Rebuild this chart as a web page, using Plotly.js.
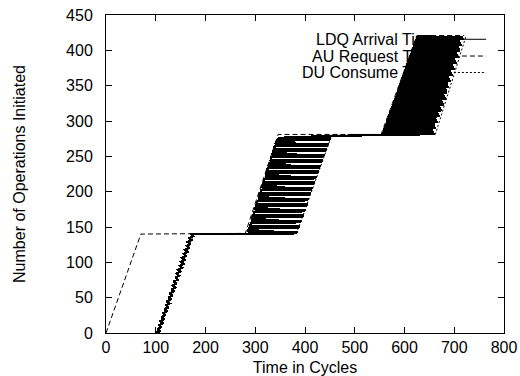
<!DOCTYPE html>
<html><head><meta charset="utf-8">
<script src="https://cdn.plot.ly/plotly-3.0.1.min.js"></script>
<style>
html,body{margin:0;padding:0;background:#fff}
#chart{width:520px;height:376px}
#chart .scatterlayer .trace:nth-child(1) path.js-line{shape-rendering:crispEdges}
</style>
</head><body><div id="chart"></div>
<script>
// Series names
const seriesNames = ["LDQ Arrival Time", "AU Request Time", "DU Consume Time"];

// LDQ Arrival Time (time in cycles, operation number)
const ldqX = [
  100,109,103,112,106,115,108,118,111,120,114,123,117,126,120,128,122,131,125,134,
  128,137,131,139,134,142,136,145,139,147,142,150,145,153,148,156,150,158,153,161,
  156,164,159,167,162,169,164,172,167,175,170,
  284,384,285,385,286, 287,388,288,389,290, 291,391,292,393,293, 294,395,295,397,296,
  298,399,299,401,300, 301,403,302,405,303, 305,407,306,409,307, 308,411,309,412,310,
  312,415,313,416,314, 315,419,316,420,317, 318,423,320,424,321, 322,427,323,428,324,
  325,431,326,432,327, 329,435,330,436,331, 332,439,333,440,334, 336,443,337,444,338,
  339,447,340,448,341, 343,451,344,452,345, 453,
  553,661,554,659,556,657,557,664,559,662,
  560,661,562,668,563,666,564,664,566,672,
  567,670,569,668,570,675,572,674,573,672,
  574,679,576,677,577,676,579,683,580,681,
  582,679,583,686,584,685,586,683,587,690,
  589,688,590,687,592,694,593,692,594,690,
  596,698,597,696,599,694,600,701,602,700,
  603,698,604,705,606,703,607,701,609,709,
  610,707,612,705,613,712,614,711,616,709,
  617,716,619,714,620,712,622,720,623,718,
  625
];
const ldqY = [
  0,2.8,5.6,8.4,11.2,14,16.8,19.6,22.4,25.2,28,30.8,33.6,36.4,39.2,42,44.8,47.6,50.4,53.2,
  56,58.8,61.6,64.4,67.2,70,72.8,75.6,78.4,81.2,84,86.8,89.6,92.4,95.2,98,100.8,103.6,106.4,109.2,
  112,114.8,117.6,120.4,123.2,126,128.8,131.6,134.4,137.2,140,
  140,141,142,143,144, 147.8,148.8,149.8,150.8,151.8, 155.6,156.6,157.6,158.6,159.6, 163.3,164.3,165.3,166.3,167.3,
  171.1,172.1,173.1,174.1,175.1, 178.9,179.9,180.9,181.9,182.9, 186.7,187.7,188.7,189.7,190.7, 194.5,195.5,196.5,197.5,198.5,
  202.2,203.2,204.2,205.2,206.2, 210,211,212,213,214, 217.8,218.8,219.8,220.8,221.8, 225.6,226.6,227.6,228.6,229.6,
  233.3,234.3,235.3,236.3,237.3, 241.1,242.1,243.1,244.1,245.1, 248.9,249.9,250.9,251.9,252.9, 256.7,257.7,258.7,259.7,260.7,
  264.4,265.4,266.4,267.4,268.4, 272.2,273.2,274.2,275.2,276.2, 279,
  280,281.4,282.8,284.2,285.6,287,288.4,289.8,291.2,292.6,
  294,295.4,296.8,298.2,299.6,301,302.4,303.8,305.2,306.6,
  308,309.4,310.8,312.2,313.6,315,316.4,317.8,319.2,320.6,
  322,323.4,324.8,326.2,327.6,329,330.4,331.8,333.2,334.6,
  336,337.4,338.8,340.2,341.6,343,344.4,345.8,347.2,348.6,
  350,351.4,352.8,354.2,355.6,357,358.4,359.8,361.2,362.6,
  364,365.4,366.8,368.2,369.6,371,372.4,373.8,375.2,376.6,
  378,379.4,380.8,382.2,383.6,385,386.4,387.8,389.2,390.6,
  392,393.4,394.8,396.2,397.6,399,400.4,401.8,403.2,404.6,
  406,407.4,408.8,410.2,411.6,413,414.4,415.8,417.2,418.6,
  420
];

// AU Request Time
const auX = [0, 70, 280, 346, 553, 625, 720];
const auY = [0, 140, 141, 281, 281, 421, 421];

// DU Consume Time
const duX = [104, 176, 383, 454, 662, 724];
const duY = [0, 140, 141, 280, 281, 421];

// Tick values
const xTicks = [0, 100, 200, 300, 400, 500, 600, 700, 800];
const yTicks = [0, 50, 100, 150, 200, 250, 300, 350, 400, 450];

const FONT = "'Liberation Sans', Arial, Helvetica, sans-serif";

const traces = [
  {x: ldqX, y: ldqY, name: seriesNames[0], type: 'scatter', mode: 'lines',
   line: {color: '#000', width: 2.2, dash: 'solid', simplify: false}},
  {x: auX, y: auY, name: seriesNames[1], type: 'scatter', mode: 'lines',
   line: {color: '#000', width: 1, dash: '5px,3px', simplify: false}},
  {x: duX, y: duY, name: seriesNames[2], type: 'scatter', mode: 'lines',
   line: {color: '#000', width: 1, dash: '2px,2px', simplify: false}}
];

// gnuplot-style key: text right-aligned, sample line to its right
const keyYs = [0.9236, 0.871, 0.8192];
const keyDash = ['solid', '5px,3px', '2px,2px'];
const annotations = seriesNames.map((n, i) => ({
  xref: 'paper', yref: 'paper', x: 0.837, y: keyYs[i], xanchor: 'right', yanchor: 'middle',
  text: n, showarrow: false, font: {family: FONT, size: 16, color: '#000'}
}));
const shapes = seriesNames.map((n, i) => ({
  type: 'line', xref: 'paper', yref: 'paper', x0: 0.854, x1: 0.955, y0: keyYs[i], y1: keyYs[i],
  line: {color: '#000', width: 1, dash: keyDash[i]}
}));

const layout = {
  width: 520, height: 376,
  margin: {l: 106, r: 16, t: 15, b: 43},
  paper_bgcolor: '#fff', plot_bgcolor: '#fff',
  showlegend: false,
  font: {family: FONT, size: 16, color: '#000'},
  xaxis: {
    range: [0, 800], tickvals: xTicks, ticktext: xTicks.map(String),
    ticks: 'inside', ticklen: 6, tickwidth: 1, tickcolor: '#000',
    showline: true, linecolor: '#000', linewidth: 1, mirror: 'ticks',
    showgrid: false, zeroline: false,
    tickfont: {family: FONT, size: 16, color: '#000'},
    title: {text: 'Time in Cycles', font: {family: FONT, size: 16, color: '#000'}, standoff: 7}
  },
  yaxis: {
    range: [0, 450], tickvals: yTicks, ticktext: yTicks.map(String),
    ticks: 'inside', ticklen: 6, tickwidth: 1, tickcolor: '#000',
    showline: true, linecolor: '#000', linewidth: 1, mirror: 'ticks',
    showgrid: false, zeroline: false, ticklabelstandoff: 9,
    tickfont: {family: FONT, size: 16, color: '#000'},
    title: {text: 'Number of Operations Initiated', font: {family: FONT, size: 16, color: '#000'}, standoff: 36}
  },
  annotations: annotations,
  shapes: shapes
};

Plotly.newPlot('chart', traces, layout, {displayModeBar: false, staticPlot: true});
</script>
</body></html>
